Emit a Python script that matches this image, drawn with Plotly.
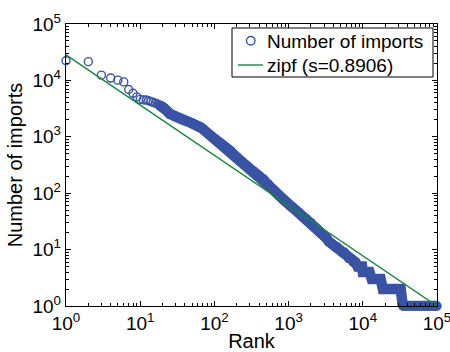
import plotly.graph_objects as go

rank = [1, 2, 3, 4, 5, 6, 7, 8, 9, 10, 11, 12, 13, 14, 15, 16, 17, 18, 19, 20,
        21, 23, 25, 26, 28, 30, 32, 35, 37, 40, 43, 46, 49, 52, 56, 60, 65, 69, 74, 79, 85, 91,
        100, 107, 115, 123, 132, 141, 151, 162, 174, 186, 200, 214, 229, 245, 263, 282, 302,
        324, 347, 372, 398, 427, 457, 490, 525, 562, 603, 646, 692, 741, 794, 851, 912, 977,
        1000, 1072, 1148, 1230, 1318, 1413, 1514, 1622, 1738, 1862, 1995, 2138, 2291, 2455,
        2630, 2818, 3020, 3236, 3467, 3715, 3981, 4266, 4571, 4898, 5248, 5623, 6026, 6457,
        6918, 7413, 7943, 8511, 9120, 9772,
        10000, 10720, 11480, 12300, 13180, 14130, 15140, 16220, 17380, 18620, 19950, 21380,
        22910, 24550, 26300, 28180, 30200, 32360, 34670, 37150, 39810, 42660, 45710, 48980,
        52480, 56230, 60260, 64570, 69180, 74130, 79430, 85110, 91200, 97720, 99500]
imports = [22300, 21500, 12400, 11000, 10100, 9400, 6900, 5900, 5100, 4600, 4520, 4480, 4360,
           4210, 4080, 3960, 3810, 3680, 3560, 3440,
           3290, 2880, 2550, 2470, 2370, 2270, 2190, 2080, 2030, 1950, 1900, 1840, 1780, 1720,
           1640, 1580, 1490, 1400, 1290, 1200, 1110, 1040,
           945, 885, 824, 772, 717, 670, 623, 580, 531, 488, 446, 410, 378, 351, 324, 300, 277,
           257, 240, 222, 207, 192, 179, 163, 148, 134, 121, 110, 100, 90, 83, 76, 71, 66,
           64, 59, 55, 51, 47, 44, 40, 37, 35, 32, 30, 27, 25, 23,
           21, 19, 17, 16, 14, 13, 12, 11, 11, 10, 9, 9, 8, 7,
           7, 6, 6, 5, 5, 5,
           4, 4, 4, 4, 3, 3, 3, 3, 3, 2, 2, 2,
           2, 2, 2, 2, 2, 2, 1, 1, 1, 1, 1, 1,
           1, 1, 1, 1, 1, 1, 1, 1, 1, 1, 1]

# Zipf fit (s = 0.8906) end points
zipf_rank = [1, 100000]
zipf_count = [28400, 1.0]

tick_vals = [1, 10, 100, 1000, 10000, 100000]
tick_text = ["10<sup>0</sup>", "10<sup>1</sup>", "10<sup>2</sup>",
             "10<sup>3</sup>", "10<sup>4</sup>", "10<sup>5</sup>"]

legend_labels = ["Number of imports", "zipf (s=0.8906)"]

BLUE = "#3a54a4"
GREEN = "#13873a"
FONT = "Liberation Sans, Arial, sans-serif"

# plot area geometry (pixels) used to place the boxed legend
W, H = 450, 352
ML, MR, MT, MB = 66, 13, 24, 46
PW, PH = W - ML - MR, H - MT - MB


def px(x):
    return (x - ML) / PW


def py(y):
    return (H - MB - y) / PH


DENSE_FROM = 17  # where the overlapping circles merge into a solid band

fig = go.Figure()
# solid band formed by the heavily overlapping circles
fig.add_trace(go.Scatter(
    x=rank[DENSE_FROM:], y=imports[DENSE_FROM:], mode="lines+markers", showlegend=False,
    line=dict(color=BLUE, width=10.5),
    marker=dict(symbol="circle", size=9.4, color=BLUE, line=dict(width=0)),
    hoverinfo="skip", cliponaxis=False,
))
fig.add_trace(go.Scatter(
    x=rank, y=imports, mode="markers", name=legend_labels[0], showlegend=False,
    marker=dict(symbol="circle-open", size=8, color=BLUE, line=dict(width=1.4, color=BLUE)),
    cliponaxis=False,
))
fig.add_trace(go.Scatter(
    x=zipf_rank, y=zipf_count, mode="lines", name=legend_labels[1], showlegend=False,
    line=dict(color=GREEN, width=1.4),
    cliponaxis=False,
))

axis_common = dict(
    type="log", showgrid=False, zeroline=False, automargin=False,
    showline=True, linecolor="black", linewidth=1.4, mirror="allticks",
    ticks="inside", ticklen=5, tickwidth=1, tickcolor="black",
    tickmode="array", tickvals=tick_vals, ticktext=tick_text,
    tickfont=dict(family=FONT, size=19, color="black"),
    ticklabeloverflow="allow",
    minor=dict(ticks="inside", ticklen=2.5, tickwidth=0.8, tickcolor="black", dtick="D1"),
)

fig.update_xaxes(range=[0, 5], title=dict(text="Rank", font=dict(family=FONT, size=20, color="black"), standoff=11),
                 **axis_common)
fig.update_yaxes(range=[0, 5], title=dict(text="Number of imports", font=dict(family=FONT, size=20, color="black"), standoff=4),
                 **axis_common)

# boxed legend (MATLAB style)
shapes = [
    dict(type="rect", xref="paper", yref="paper", x0=px(232), x1=px(433), y0=py(77), y1=py(28),
         line=dict(color="black", width=1), fillcolor="white", layer="above"),
    dict(type="circle", xref="paper", yref="paper", x0=px(246.5), x1=px(255), y0=py(45), y1=py(36.5),
         line=dict(color=BLUE, width=1.4), layer="above"),
    dict(type="line", xref="paper", yref="paper", x0=px(238), x1=px(263), y0=py(65), y1=py(65),
         line=dict(color=GREEN, width=1.4), layer="above"),
]
annotations = [
    dict(xref="paper", yref="paper", x=px(265), y=py(41.5), xanchor="left", yanchor="middle",
         text=legend_labels[0], showarrow=False, font=dict(family=FONT, size=19, color="black")),
    dict(xref="paper", yref="paper", x=px(265), y=py(65.5), xanchor="left", yanchor="middle",
         text=legend_labels[1], showarrow=False, font=dict(family=FONT, size=19, color="black")),
]

fig.update_layout(
    width=W, height=H,
    margin=dict(l=ML, r=MR, t=MT, b=MB),
    paper_bgcolor="white", plot_bgcolor="white",
    showlegend=False,
    shapes=shapes, annotations=annotations,
    font=dict(family=FONT),
)

fig.write_html("out.html")
